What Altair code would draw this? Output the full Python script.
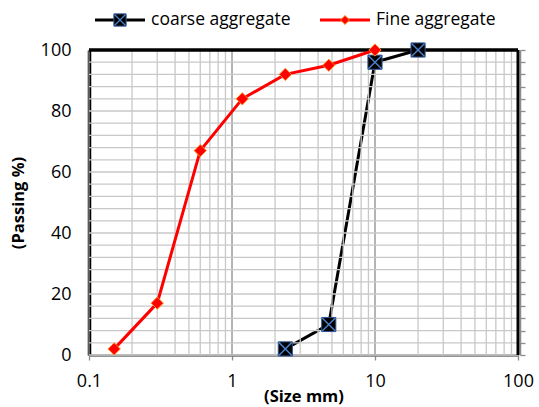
import altair as alt
import pandas as pd

coarse_size = [2.36, 4.75, 10, 20]
coarse_pass = [2, 10, 96, 100]
fine_size = [0.15, 0.3, 0.6, 1.18, 2.36, 4.75, 10]
fine_pass = [2, 17, 67, 84, 92, 95, 100]

x_major = [0.1, 1, 10, 100]
x_minor = [m * d for d in [0.1, 1, 10] for m in range(2, 10)]
y_ticks = [0, 20, 40, 60, 80, 100]
y_minor = list(range(0, 101, 4))

FONT = "Open Sans"
xs = alt.Scale(type="log", domain=[0.1, 100])
ys = alt.Scale(domain=[0, 100])

coarse = pd.DataFrame({"size": coarse_size, "passing": coarse_pass})
fine = pd.DataFrame({"size": fine_size, "passing": fine_pass})

xaxis = alt.Axis(
    values=x_major, labelExpr="datum.value >= 1 ? format(datum.value, 'd') : '0.1'",
    title="(Size mm)", titleFont=FONT, titleFontSize=16.5, titleFontWeight="bold",
    titleColor="black", labelFont=FONT, labelFontSize=18, labelColor="black",
    labelPadding=12, titlePadding=-2, grid=False, domainColor="#707070",
    domainWidth=2.5, tickColor="#8c8c8c", tickSize=5, tickWidth=1.3,
    labelFlush=False,
)
yaxis = alt.Axis(
    values=y_ticks, title="(Passing %)", titleFont=FONT, titleFontSize=16.5,
    titleFontWeight="bold", titleColor="black", labelFont=FONT, labelFontSize=18,
    labelColor="black", labelPadding=18, titlePadding=14, grid=False,
    domainColor="black", domainWidth=3.5, ticks=False,
)
yaxis_r = alt.Axis(
    orient="right", values=y_minor, labels=False, title=None, grid=False,
    domain=True, domainColor="#8c8c8c", domainWidth=1.5,
    tickColor="#8c8c8c", tickSize=5, tickWidth=1.3, offset=2,
)

X = lambda f: alt.X(f, scale=xs, axis=xaxis)
Y0 = lambda f: alt.Y(f, scale=ys, axis=None)

xgrid_minor = alt.Chart(pd.DataFrame({"v": x_minor})).mark_rule(
    color="#c8c8c8", strokeWidth=1.3).encode(x=X("v:Q"))
xgrid_major = alt.Chart(pd.DataFrame({"v": x_major})).mark_rule(
    color="#8c8c8c", strokeWidth=1.3).encode(x=X("v:Q"))
ygrid = alt.Chart(pd.DataFrame({"v": y_minor})).mark_rule(
    color="#c8c8c8", strokeWidth=1.3).encode(y=alt.Y("v:Q", scale=ys, axis=yaxis_r))

coarse_line = alt.Chart(coarse).mark_line(color="black", strokeWidth=3).encode(
    x=X("size:Q"), y=alt.Y("passing:Q", scale=ys, axis=yaxis))
coarse_sq = alt.Chart(coarse).mark_point(
    shape="square", filled=True, fill="black", stroke="#2f5597", strokeWidth=1, size=200, opacity=1
).encode(x=X("size:Q"), y=Y0("passing:Q"))
coarse_x = alt.Chart(coarse).mark_point(
    shape="M-1,-1L1,1M1,-1L-1,1", filled=False, stroke="#4a7fc9", strokeWidth=1.5, size=170, opacity=1
).encode(x=X("size:Q"), y=Y0("passing:Q"))

fine_line = alt.Chart(fine).mark_line(color="#ff0000", strokeWidth=3).encode(
    x=X("size:Q"), y=Y0("passing:Q"))
fine_pt = alt.Chart(fine).mark_point(
    shape="diamond", filled=True, fill="#ff0000", stroke="#ff8c1a", strokeWidth=1, size=150, opacity=1
).encode(x=X("size:Q"), y=Y0("passing:Q"))

top_border = alt.Chart(pd.DataFrame({"v": [100]})).mark_rule(color="black", strokeWidth=3.5).encode(
    y=Y0("v:Q"))
right_border = alt.Chart(pd.DataFrame({"v": [100]})).mark_rule(color="black", strokeWidth=3).encode(
    x=X("v:Q"))

# legend
leg_names = ["coarse aggregate", "Fine aggregate"]
leg = []
for name, x0, col in [(leg_names[0], 6, "black"), (leg_names[1], 231, "#ff0000")]:
    d = pd.DataFrame({"t": [name]})
    leg.append(alt.Chart(d).mark_rule(color=col, strokeWidth=3).encode(
        x=alt.value(x0), x2=alt.value(x0 + 50), y=alt.value(-30)))
    if col == "black":
        leg.append(alt.Chart(d).mark_point(shape="square", filled=True, fill="black",
                   stroke="#2f5597", strokeWidth=1, size=150, opacity=1).encode(
            x=alt.value(x0 + 25), y=alt.value(-30)))
        leg.append(alt.Chart(d).mark_point(shape="M-1,-1L1,1M1,-1L-1,1", filled=False,
                   stroke="#4a7fc9", strokeWidth=1.3, size=120, opacity=1).encode(
            x=alt.value(x0 + 25), y=alt.value(-30)))
    else:
        leg.append(alt.Chart(d).mark_point(shape="diamond", filled=True, fill="#ff0000",
                   stroke="#ff8c1a", strokeWidth=1, size=80, opacity=1).encode(
            x=alt.value(x0 + 25), y=alt.value(-30)))
    leg.append(alt.Chart(d).mark_text(align="left", baseline="middle", font=FONT,
               fontSize=17.5, color="black").encode(
        x=alt.value(x0 + 56), y=alt.value(-30), text="t:N"))

chart = alt.layer(
    coarse_line, xgrid_minor, xgrid_major, ygrid, top_border, right_border,
    fine_line, coarse_sq, coarse_x, fine_pt, *leg
).resolve_axis(y="independent").properties(
    width=429, height=305,
    autosize=alt.AutoSizeParams(type="none"),
    padding={"left": 89, "top": 50, "right": 21, "bottom": 52},
).configure_view(stroke=None).configure(background="white")

chart.save("out.html", embed_options={"renderer": "svg", "actions": False})
